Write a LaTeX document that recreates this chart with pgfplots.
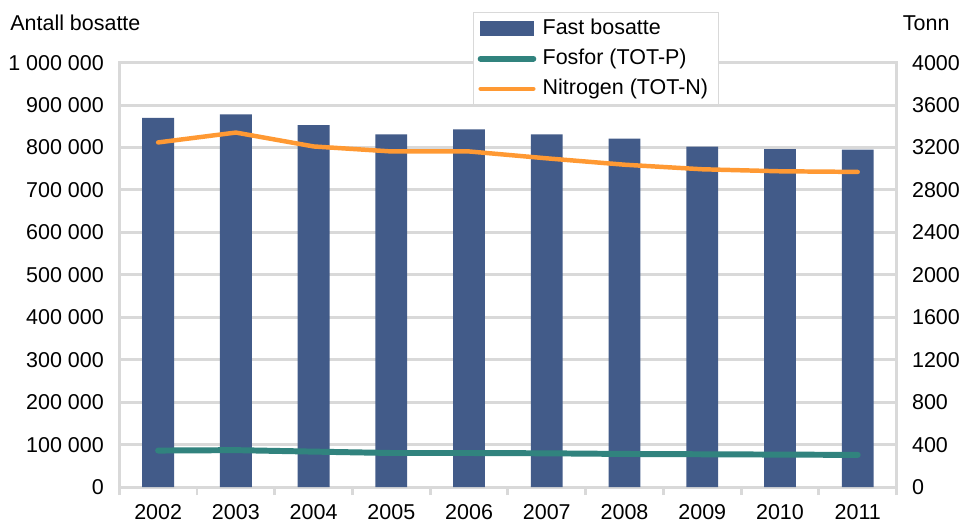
\documentclass[border=0pt]{standalone}
\usepackage{fontspec}
\setmainfont{Liberation Sans}
\usepackage{pgfplots}
\pgfplotsset{compat=1.18}

\definecolor{barblue}{HTML}{425B89}
\definecolor{fosfor}{HTML}{31837E}
\definecolor{nitro}{HTML}{FF9933}
\definecolor{gridgray}{HTML}{D9D9D9}

\pgfplotsset{
  lineimg/.style={legend image code/.code={\draw[##1] (0pt,0pt) -- (26.5pt,0pt);}},
  barimg/.style={legend image code/.code={\fill[barblue] (0pt,-3.25pt) rectangle (26.5pt,3.25pt);}},
}

\begin{document}
\fontsize{10.8}{13}\selectfont
\begin{tikzpicture}
\pgfplotsset{
  base/.style={
    width=391pt, height=213.5pt, scale only axis,
    xmin=-0.5, xmax=9.5,
    /pgf/number format/assume math mode=true,
    tick label style={font=\fontsize{10.8}{13}\selectfont},
    major tick length=0pt,
  }
}
% left axis: population (bars)
\begin{axis}[base, name=ax,
  ybar, bar width=16pt,
  ymin=0, ymax=1000000, ytick distance=100000,
  scaled y ticks=false,
  yticklabel style={/pgf/number format/fixed, /pgf/number format/1000 sep={\ }, xshift=-4pt},
  xtick={0,...,9},
  xticklabels={2002,2003,2004,2005,2006,2007,2008,2009,2010,2011},
  minor xtick={-0.5,0.5,...,9.5},
  minor tick length=4pt,
  tick align=outside, xtick pos=bottom, ytick pos=left,
  x tick style={draw=gridgray, line width=1.5pt},
  ytick style={draw=none},
  ymajorgrids, major grid style={draw=gridgray, line width=1.5pt},
  axis line style={draw=gridgray, line width=1.5pt},
  xticklabel style={yshift=-4.9pt},
]
\addplot[fill=barblue, draw=none] coordinates {
  (0,870000) (1,878000) (2,853000) (3,831000) (4,843000)
  (5,831000) (6,821000) (7,802000) (8,796000) (9,795000)};
\end{axis}
% right axis: tonnes (lines)
\begin{axis}[base,
  ymin=0, ymax=4000, ytick distance=400,
  hide x axis, axis y line*=right,
  y axis line style={draw=none}, ytick style={draw=none},
  yticklabel style={/pgf/number format/1000 sep={}, xshift=4pt},
  legend cell align=left,
  legend style={at={(0.455,1.1194)}, anchor=north west,
    draw=gridgray, line width=0.75pt, fill=white,
    inner xsep=2pt, inner ysep=2pt, row sep=3pt,
    nodes={inner xsep=3.2pt, inner ysep=1pt, text height=7.8pt, text depth=2.3pt},
    font=\fontsize{10.8}{13}\selectfont},
]
\addlegendimage{barimg}
\addlegendentry{Fast bosatte}
\addplot[fosfor, line width=3pt, line cap=round, lineimg] coordinates {
  (0,344) (1,348) (2,334) (3,321) (4,321)
  (5,318) (6,312) (7,309) (8,306) (9,303)};
\addlegendentry{Fosfor (TOT-P)}
\addplot[nitro, line width=2.25pt, line cap=round, lineimg] coordinates {
  (0,3248) (1,3341) (2,3210) (3,3163) (4,3163)
  (5,3098) (6,3038) (7,2995) (8,2976) (9,2970)};
\addlegendentry{Nitrogen (TOT-N)}
\end{axis}
\node[anchor=base west, inner sep=0] at ([xshift=-55pt,yshift=16pt]ax.north west) {Antall bosatte};
\node[anchor=base west, inner sep=0] at ([xshift=3pt,yshift=16pt]ax.north east) {Tonn};
\path ([xshift=-60pt,yshift=-17.5pt]ax.south west) rectangle ++(483.5pt,262.5pt);
\end{tikzpicture}
\end{document}
